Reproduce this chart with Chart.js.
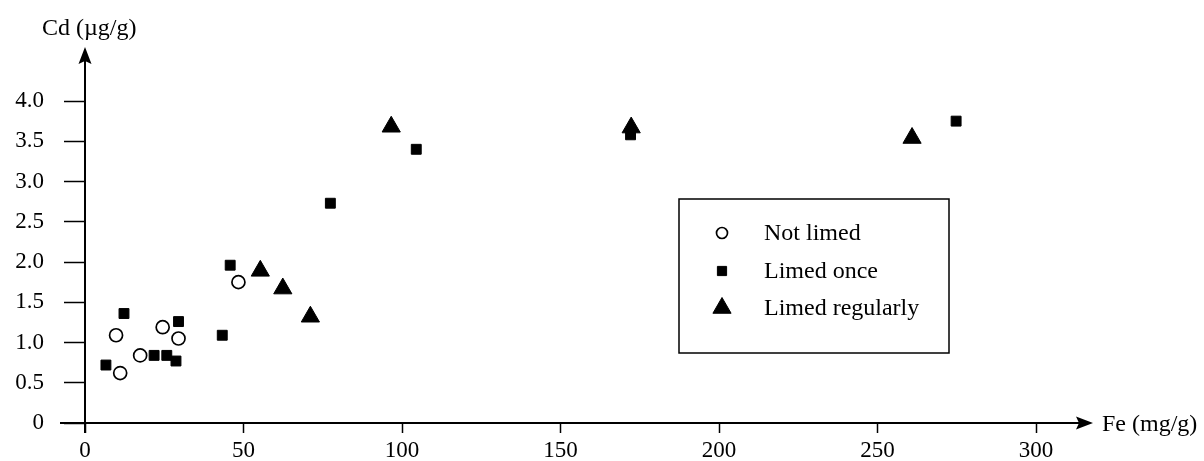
<!DOCTYPE html>
<html>
<head>
<meta charset="utf-8">
<script src="https://cdn.jsdelivr.net/npm/chart.js@4/dist/chart.umd.min.js"></script>
<style>
  html, body { margin: 0; padding: 0; background: #fff; }
  #wrap { width: 1204px; height: 461px; }
</style>
</head>
<body>
<div id="wrap"><canvas id="chart" width="1204" height="461"></canvas></div>
<script>
// values
var feNotLimed = [9.8, 11.1, 17.4, 24.5, 29.5, 48.4];
var cdNotLimed = [1.09, 0.62, 0.84, 1.19, 1.05, 1.75];

var feLimedOnce = [6.6, 12.3, 21.8, 25.8, 28.7, 29.5, 43.3, 45.8, 77.4, 104.5, 172.1, 274.8];
var cdLimedOnce = [0.72, 1.36, 0.84, 0.84, 0.77, 1.26, 1.09, 1.96, 2.73, 3.40, 3.58, 3.75];

var feLimedRegularly = [55.3, 62.4, 71.1, 96.6, 172.3, 260.9];
var cdLimedRegularly = [1.89, 1.67, 1.32, 3.68, 3.67, 3.54];

var xTicks = [0, 50, 100, 150, 200, 250, 300];
var yTicks = [0, 0.5, 1.0, 1.5, 2.0, 2.5, 3.0, 3.5, 4.0];
var xTitle = 'Fe (mg/g)';
var yTitle = 'Cd (\u00b5g/g)';

function pairs(xs, ys) {
  return xs.map(function (x, i) { return { x: x, y: ys[i] }; });
}

var serif = '"Liberation Serif", "Times New Roman", serif';

// axes with arrows, titles and the boxed legend
var decorPlugin = {
  id: 'decor',
  afterDraw: function (chart) {
    var ctx = chart.ctx;
    var xs = chart.scales.x, ys = chart.scales.y;
    var x0 = xs.getPixelForValue(0), y0 = ys.getPixelForValue(0);
    var area = chart.chartArea;
    ctx.save();
    ctx.strokeStyle = '#000';
    ctx.fillStyle = '#000';
    ctx.lineWidth = 2;

    // y axis
    var yTip = area.top - 54;
    ctx.beginPath();
    ctx.moveTo(x0, y0 + 10);
    ctx.lineTo(x0, yTip + 10);
    ctx.stroke();
    ctx.beginPath();
    ctx.moveTo(x0, yTip);
    ctx.lineTo(x0 - 6.5, yTip + 17);
    ctx.lineTo(x0, yTip + 14);
    ctx.lineTo(x0 + 6.5, yTip + 17);
    ctx.closePath();
    ctx.fill();

    // x axis
    var xTip = area.right + 57;
    ctx.beginPath();
    ctx.moveTo(x0 - 25, y0);
    ctx.lineTo(xTip - 10, y0);
    ctx.stroke();
    ctx.beginPath();
    ctx.moveTo(xTip, y0);
    ctx.lineTo(xTip - 17, y0 - 6.5);
    ctx.lineTo(xTip - 14, y0);
    ctx.lineTo(xTip - 17, y0 + 6.5);
    ctx.closePath();
    ctx.fill();

    // axis titles
    ctx.font = '24px ' + serif;
    ctx.textBaseline = 'alphabetic';
    ctx.textAlign = 'left';
    ctx.fillText(yTitle, 42, 35);
    ctx.fillText(xTitle, xTip + 9, y0 + 8);

    // legend
    var lx = 679, ly = 199, lw = 270, lh = 154;
    ctx.lineWidth = 1.5;
    ctx.strokeRect(lx, ly, lw, lh);
    var rows = [233, 271, 308];
    ctx.textBaseline = 'middle';
    chart.data.datasets.forEach(function (ds, i) {
      var opts = {
        pointStyle: ds.pointStyle,
        radius: ds.legendRadius,
        borderWidth: ds.borderWidth,
        rotation: 0
      };
      ctx.fillStyle = ds.backgroundColor;
      ctx.strokeStyle = ds.borderColor;
      ctx.lineWidth = ds.borderWidth;
      Chart.helpers.drawPoint(ctx, opts, 722, rows[i]);
      ctx.fillStyle = '#000';
      ctx.fillText(ds.label, 764, rows[i] + 1);
    });
    ctx.restore();
  }
};

var ctx1 = document.getElementById('chart').getContext('2d');
var cdFeChart = new Chart(ctx1, {
  type: 'scatter',
  data: {
    datasets: [{
      label: 'Not limed',
      data: pairs(feNotLimed, cdNotLimed),
      pointStyle: 'circle',
      pointRadius: 6.5,
      legendRadius: 5.5,
      backgroundColor: '#fff',
      borderColor: '#000',
      borderWidth: 1.7
    }, {
      label: 'Limed once',
      data: pairs(feLimedOnce, cdLimedOnce),
      pointStyle: 'rect',
      pointRadius: 7,
      legendRadius: 6.5,
      backgroundColor: '#000',
      borderColor: '#000',
      borderWidth: 1
    }, {
      label: 'Limed regularly',
      data: pairs(feLimedRegularly, cdLimedRegularly),
      pointStyle: 'triangle',
      pointRadius: 10.5,
      legendRadius: 10.5,
      backgroundColor: '#000',
      borderColor: '#000',
      borderWidth: 1
    }]
  },
  options: {
    responsive: false,
    animation: false,
    clip: false,
    layout: { padding: { left: 0, right: 168, top: 101, bottom: 0 } },
    plugins: {
      legend: { display: false },
      tooltip: { enabled: false }
    },
    scales: {
      x: {
        type: 'linear',
        min: 0,
        max: 300,
        afterBuildTicks: function (scale) {
          scale.ticks = xTicks.map(function (v) { return { value: v }; });
        },
        afterFit: function (scale) { scale.height = 38; },
        border: { display: false },
        grid: {
          drawOnChartArea: false,
          drawTicks: true,
          tickLength: 10,
          tickColor: '#000',
          tickWidth: 1.5
        },
        ticks: {
          color: '#000',
          padding: 4,
          maxRotation: 0,
          font: { family: serif, size: 23 },
          callback: function (v) { return String(v); }
        }
      },
      y: {
        type: 'linear',
        min: 0,
        max: 4,
        afterBuildTicks: function (scale) {
          scale.ticks = yTicks.map(function (v) { return { value: v }; });
        },
        afterFit: function (scale) { scale.width = 85; },
        border: { display: false },
        grid: {
          drawOnChartArea: false,
          drawTicks: true,
          tickLength: 21,
          tickColor: '#000',
          tickWidth: 1.5
        },
        ticks: {
          color: '#000',
          padding: 20,
          font: { family: serif, size: 23 },
          callback: function (v) { return v === 0 ? '0' : Number(v).toFixed(1); }
        }
      }
    }
  },
  plugins: [decorPlugin]
});
</script>
</body>
</html>
